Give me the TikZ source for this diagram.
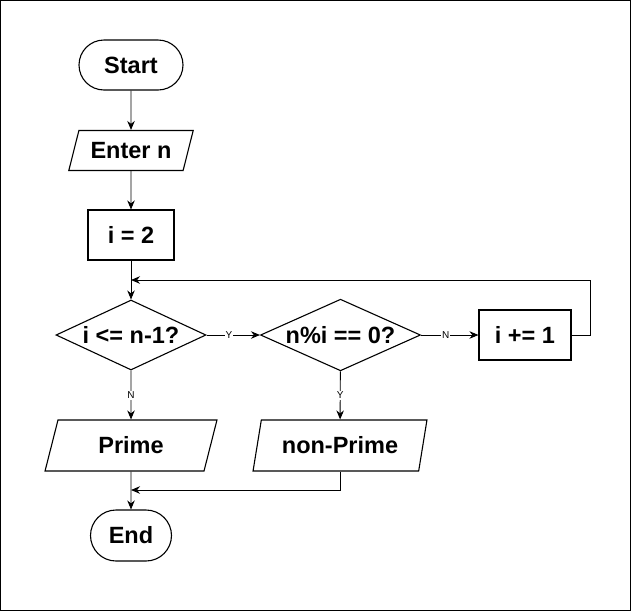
\documentclass[tikz,border=0pt]{standalone}
\usepackage{fontspec}
\setmainfont{Liberation Sans}
\usetikzlibrary{arrows.meta, shapes.geometric, shapes.misc}

\begin{document}
\begin{tikzpicture}[x=1pt, y=-1pt,
    box/.style={draw, line width=1.1pt, inner sep=0pt, text height=16.8pt, text depth=0pt,
        font=\fontsize{23.5}{27}\selectfont\bfseries},
    term/.style={box, rounded rectangle, minimum height=50pt},
    io/.style={box, trapezium, trapezium stretches=true},
    proc/.style={box, rectangle, minimum height=50pt},
    cond/.style={box, diamond, aspect=2, minimum height=70pt},
    arr/.style={-{Stealth[length=9pt,width=7.5pt]}, line width=0.9pt},
    lbl/.style={fill=white, inner sep=1pt, text height=7pt, text depth=0pt,
        font=\fontsize{10}{11}\selectfont}]
\useasboundingbox (0,0) rectangle (631,611);
\draw[line width=1pt] (0.5,0.5) rectangle (630,610);

\node[term, minimum width=104pt] (start) at (131,65) {Start};
\node[io, trapezium left angle=65, trapezium right angle=115,
    minimum width=125pt, minimum height=40pt] (enter) at (131,150.5) {Enter n};
\node[proc, minimum width=86pt] (init) at (131,235) {i = 2};
\node[cond, minimum width=150pt] (dec1) at (131,335) {i <= n-1?};
\node[cond, minimum width=160pt] (dec2) at (340.5,335) {n\%i == 0?};
\node[proc, minimum width=92pt] (inc) at (525,335) {i += 1};
\node[io, trapezium left angle=71, trapezium right angle=109,
    minimum width=172pt, minimum height=51pt] (prime) at (131,445.5) {Prime};
\node[io, trapezium left angle=70, trapezium right angle=110,
    minimum width=174pt, minimum height=51pt] (nonprime) at (340,445.5) {non-Prime};
\node[term, minimum width=81pt, minimum height=51pt] (stop) at (131,535.5) {End};

\coordinate (loop) at (131,280);
\coordinate (merge) at (131,490);

\path [arr] (start) edge (enter);
\path [arr] (enter) edge (init);
\path [arr] (init) edge (dec1);
\path [arr] (dec1) edge node[lbl, pos=0.42] {Y} (dec2);
\path [arr] (dec2) edge node[lbl, pos=0.43] {N} (inc);
\path [arr] (dec1) edge node[lbl] {N} (prime);
\path [arr] (dec2) edge node[lbl] {Y} (nonprime);
\path [arr] (prime) edge (stop);
\draw [arr] (inc.east) -- ++(19,0) |- (loop);
\draw [arr] (nonprime.south) |- (merge);
\end{tikzpicture}
\end{document}
